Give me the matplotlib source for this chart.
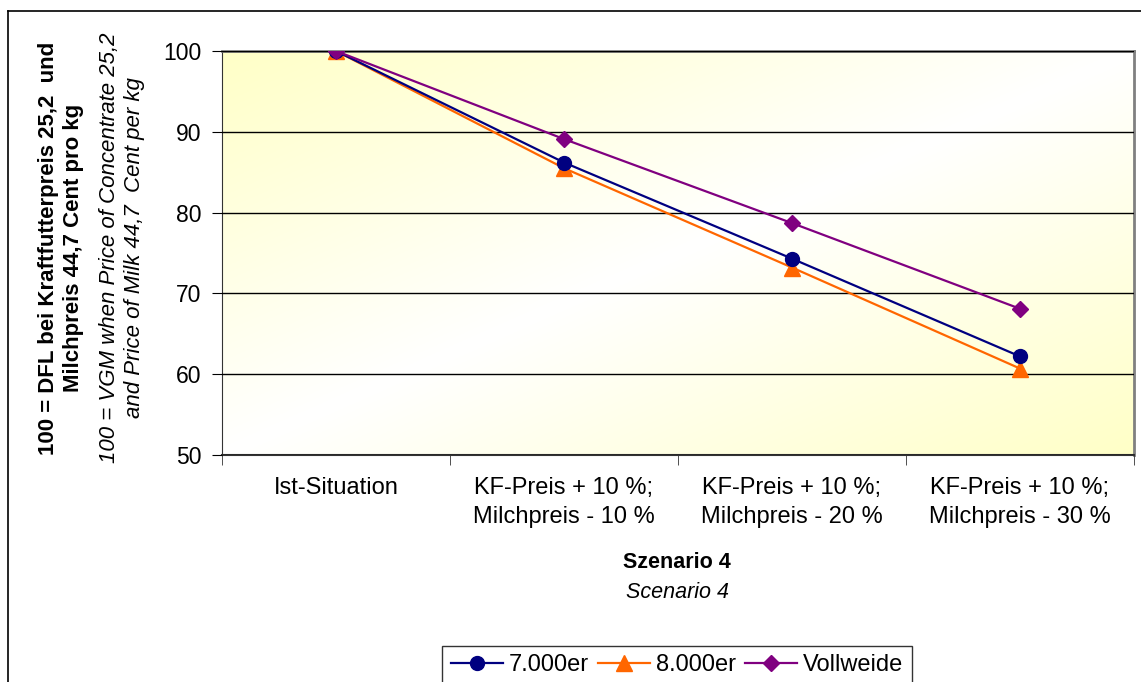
import numpy as np
import matplotlib
matplotlib.use("Agg")
import matplotlib.pyplot as plt
from matplotlib.lines import Line2D

plt.rcParams['font.family'] = ['Liberation Sans', 'DejaVu Sans']

# data
kategorien = ["Ist-Situation",
              "KF-Preis + 10 %;\nMilchpreis - 10 %",
              "KF-Preis + 10 %;\nMilchpreis - 20 %",
              "KF-Preis + 10 %;\nMilchpreis - 30 %"]
werte_7000 = [100, 86.2, 74.3, 62.2]
werte_8000 = [100, 85.5, 73.2, 60.7]
werte_vollweide = [100, 89.1, 78.7, 68.1]

W, H = 1141, 682
fig = plt.figure(figsize=(W / 100, H / 100), dpi=100)
ax = fig.add_axes([222 / W, 1 - 455 / H, (1134 - 222) / W, (455 - 51) / H])

# background gradient: yellow in top-left and bottom-right corners, white in the middle
u = np.linspace(0, 1, 300)
w = np.linspace(0, 1, 200)
U, Wt = np.meshgrid(u, w)
p = np.abs(U + Wt - 1)
gelb = np.array([1.0, 1.0, 0.78])
img = np.ones((200, 300, 3)) * (1 - p[..., None]) + gelb * p[..., None]
ax.imshow(img, extent=[0, 1, 0, 1], transform=ax.transAxes, aspect='auto', zorder=0)

x = np.arange(len(kategorien))
ax.plot(x, werte_7000, color='#000080', lw=1.6, marker='o', ms=10, label='7.000er', zorder=4)
ax.plot(x, werte_8000, color='#FF6600', lw=1.6, marker='^', ms=11, label='8.000er', zorder=3)
ax.plot(x, werte_vollweide, color='#800080', lw=1.6, marker='D', ms=8, label='Vollweide', zorder=5)

ax.set_xlim(-0.5, 3.5)
ax.set_ylim(50, 100)
ax.set_yticks([50, 60, 70, 80, 90, 100])
ax.yaxis.grid(True, color='black', lw=1)
ax.set_axisbelow(False)
for gl in ax.get_ygridlines():
    gl.set_zorder(1)

ax.set_xticks(x)
ax.set_xticklabels(kategorien, fontsize=17, linespacing=1.4)
ax.set_xticks([-0.5, 0.5, 1.5, 2.5, 3.5], minor=True)
ax.tick_params(axis='x', which='major', length=0, pad=16)
ax.tick_params(axis='x', which='minor', length=7, color='#333333')
ax.tick_params(axis='y', length=7, labelsize=16.5, pad=8)

ax.spines['top'].set_color('#808080')
ax.spines['right'].set_color('#808080')
ax.spines['top'].set_linewidth(2)
ax.spines['right'].set_linewidth(2)
ax.spines['left'].set_color('#333333')
ax.spines['bottom'].set_color('#333333')
ax.spines['bottom'].set_linewidth(1.5)

# axis titles
fig.text(677 / W, 1 - 563 / H, "Szenario 4", ha='center', va='center', fontsize=15.5, fontweight='bold')
fig.text(677 / W, 1 - 593 / H, "Scenario 4", ha='center', va='center', fontsize=15.5, style='italic')

fig.text(61 / W, 1 - 248 / H, "100 = DFL bei Kraftfutterpreis 25,2  und\nMilchpreis 44,7 Cent pro kg",
         rotation=90, ha='center', va='center', fontsize=16, fontweight='bold', linespacing=1.25)
fig.text(122 / W, 1 - 248 / H, "100 = VGM when Price of Concentrate 25,2\nand Price of Milk 44,7  Cent per kg",
         rotation=90, ha='center', va='center', fontsize=16, style='italic', linespacing=1.25)

# legend
leg = fig.legend(loc='upper center', bbox_to_anchor=(677 / W, 1 - 634 / H), ncol=3,
                 fontsize=17, frameon=True, fancybox=False, edgecolor='black',
                 handlelength=2.2, columnspacing=0.4, handletextpad=0.25, borderpad=0.35)
leg.get_frame().set_linewidth(1)

# outer chart frame
fig.add_artist(Line2D([8 / W, 8 / W], [0, 1 - 11 / H], color='black', lw=1.2, transform=fig.transFigure))
fig.add_artist(Line2D([8 / W, 1], [1 - 11 / H, 1 - 11 / H], color='black', lw=1.2, transform=fig.transFigure))

fig.savefig('out.png', dpi=100)
